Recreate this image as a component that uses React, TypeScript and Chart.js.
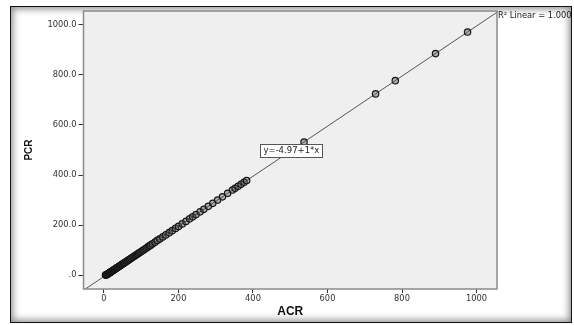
import React, { useEffect, useRef } from 'react';
import { Chart, registerables } from 'chart.js';

Chart.register(...registerables);

// ---- data ----
const ACR = [
  4, 5, 6, 7, 8, 9, 10, 11, 12, 13, 14, 15, 16, 17, 18, 19, 20, 21, 22,
  24, 25, 26, 28, 29, 30, 32, 33, 35, 36, 38, 40, 41, 43, 45, 47, 49, 51, 53, 55, 57,
  60, 62, 64, 67, 69, 72, 75, 78, 81, 84, 87, 90, 93, 96, 99, 103, 106, 110, 114, 118, 122,
  125, 130, 137, 143, 150, 158, 166, 175, 183, 192, 200, 210, 220, 230, 238, 247, 258, 268,
  280, 292, 305, 318, 332, 345, 352, 360, 368, 376, 383, 537, 729, 782, 890, 976,
];
const PCR = [
  0.5, 0.8, 1.2, 2, 3, 4, 5, 6, 7, 8, 9, 10, 11, 12, 13, 14, 15, 16, 17,
  19, 20, 21, 23, 24, 25, 27, 28, 30, 31, 33, 35, 36, 38, 40, 42, 44, 46, 48, 50, 52,
  55, 57, 59, 62, 64, 67, 70, 73, 76, 79, 82, 85, 88, 91, 94, 98, 101, 105, 109, 113, 117,
  120, 125, 132, 139, 145, 153, 161, 170, 178, 187, 195, 205, 215, 225, 233, 242, 253, 263,
  275, 287, 300, 313, 327, 340, 347, 355, 363, 371, 378, 532, 724, 777, 885, 971,
];
const X_TICKS = [0, 200, 400, 600, 800, 1000];
const Y_TICKS = [0, 200, 400, 600, 800, 1000];
const AXIS_MIN = -55;
const AXIS_MAX = 1055;
const FIT_INTERCEPT = -4.97;
const FIT_SLOPE = 1;
const FIT_LABEL = 'y=-4.97+1*x';
const FIT_LABEL_AT = { x: 503, y: 498 };
const R2_LABEL = 'R\u00B2 Linear = 1.000';
const X_TITLE = 'ACR';
const Y_TITLE = 'PCR';

const TICK_FONT = '"DejaVu Sans", sans-serif';

const decor = {
  id: 'decor',
  beforeDraw(chart: any) {
    const { ctx, chartArea: a } = chart;
    ctx.save();
    ctx.fillStyle = '#efefef';
    ctx.fillRect(a.left, a.top, a.right - a.left, a.bottom - a.top);
    ctx.restore();
  },
  afterDraw(chart: any) {
    const { ctx, chartArea: a, scales } = chart;
    ctx.save();
    ctx.strokeStyle = '#8a8a8a';
    ctx.lineWidth = 1.5;
    ctx.strokeRect(a.left, a.top, a.right - a.left, a.bottom - a.top);

    ctx.font = `8.3px ${TICK_FONT}`;
    ctx.fillStyle = '#222';
    ctx.textBaseline = 'middle';
    ctx.textAlign = 'left';
    ctx.fillText(R2_LABEL, a.right + 1, a.top + 5);

    const cx = scales.x.getPixelForValue(FIT_LABEL_AT.x);
    const cy = scales.y.getPixelForValue(FIT_LABEL_AT.y);
    ctx.font = `8.5px ${TICK_FONT}`;
    const w = ctx.measureText(FIT_LABEL).width + 6;
    const h = 13;
    ctx.fillStyle = '#ffffff';
    ctx.fillRect(cx - w / 2, cy - h / 2, w, h);
    ctx.strokeStyle = '#555';
    ctx.lineWidth = 1;
    ctx.strokeRect(Math.round(cx - w / 2) + 0.5, Math.round(cy - h / 2) + 0.5, Math.round(w), h);
    ctx.fillStyle = '#222';
    ctx.textAlign = 'center';
    ctx.fillText(FIT_LABEL, cx, cy + 0.5);
    ctx.restore();
  },
};

export default function App() {
  const ref = useRef<HTMLCanvasElement | null>(null);

  useEffect(() => {
    document.body.style.margin = '0';
    const points = ACR.map((x, i) => ({ x, y: PCR[i] }));
    const fit = [AXIS_MIN, AXIS_MAX].map((x) => ({ x, y: FIT_INTERCEPT + FIT_SLOPE * x }));
    const chart = new Chart(ref.current as HTMLCanvasElement, {
      type: 'scatter',
      data: {
        datasets: [
          {
            data: points,
            pointRadius: 3.2,
            pointBorderWidth: 1.2,
            pointBorderColor: '#161616',
            pointBackgroundColor: 'rgba(90,90,90,0.45)',
            showLine: false,
          },
          {
            data: fit,
            showLine: true,
            pointRadius: 0,
            borderColor: '#555',
            borderWidth: 1,
          } as any,
        ],
      },
      options: {
        responsive: false,
        animation: false,
        devicePixelRatio: 1,
        layout: { padding: { left: 0, top: 11, right: 77, bottom: 0 } },
        plugins: { legend: { display: false }, tooltip: { enabled: false } },
        scales: {
          x: {
            type: 'linear',
            min: AXIS_MIN,
            max: AXIS_MAX,
            afterBuildTicks: (s: any) => { s.ticks = X_TICKS.map((value) => ({ value })); },
            afterFit: (s: any) => { s.height = 36; },
            grid: { drawOnChartArea: false, drawTicks: true, tickLength: 4, color: '#333', lineWidth: 1 },
            border: { display: false },
            ticks: {
              font: { family: TICK_FONT, size: 8.3 },
              color: '#333',
              padding: 1,
              maxRotation: 0,
              callback: (v: any) => String(v),
            },
            title: {
              display: true,
              text: X_TITLE,
              font: { family: '"Liberation Sans", Arial, sans-serif', size: 12, weight: 'bold' },
              color: '#111',
              padding: { top: 0, bottom: 6 },
            },
          },
          y: {
            type: 'linear',
            min: AXIS_MIN,
            max: AXIS_MAX,
            afterBuildTicks: (s: any) => { s.ticks = Y_TICKS.map((value) => ({ value })); },
            afterFit: (s: any) => { s.width = 83.5; },
            grid: { drawOnChartArea: false, drawTicks: true, tickLength: 5, color: '#333', lineWidth: 1 },
            border: { display: false },
            ticks: {
              font: { family: TICK_FONT, size: 8.3 },
              color: '#333',
              padding: 2,
              callback: (v: any) => (v === 0 ? '.0' : Number(v).toFixed(1)),
            },
            title: {
              display: true,
              text: Y_TITLE,
              font: { family: '"Liberation Sans", Arial, sans-serif', size: 10, weight: 'bold' },
              color: '#111',
              padding: { top: 23, bottom: 0 },
            },
          },
        },
      },
      plugins: [decor],
    });
    return () => chart.destroy();
  }, []);

  return (
    <div style={{ position: 'relative', width: 574, height: 325, background: '#fff' }}>
      <div
        style={{
          position: 'absolute',
          left: 10,
          top: 6,
          width: 562,
          height: 317,
          boxSizing: 'border-box',
          border: '1px solid #111',
          boxShadow: 'inset 0 0 7px 2px rgba(0,0,0,0.45)',
          background: '#fff',
        }}
      />
      <canvas ref={ref} width={574} height={325} style={{ position: 'absolute', left: 0, top: 0 }} />
    </div>
  );
}
